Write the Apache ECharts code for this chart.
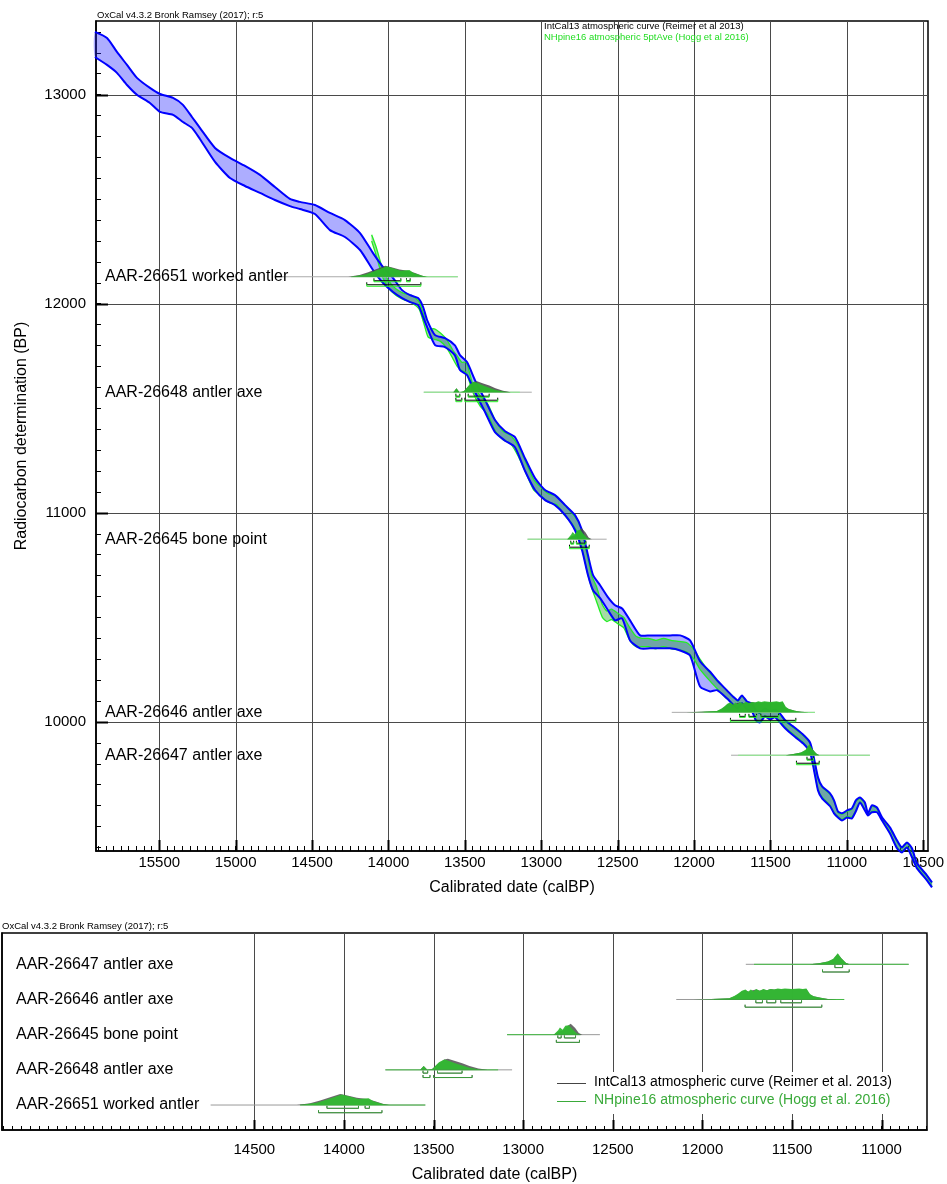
<!DOCTYPE html>
<html><head><meta charset="utf-8">
<script src="https://cdn.jsdelivr.net/npm/echarts@6/dist/echarts.min.js"></script>
<style>html,body{margin:0;padding:0;background:#fff}#c{width:947px;height:1184px}</style>
</head><body><div id="c"></div>
<script>
// ---------- DATA ----------
// IntCal13 band: [calBP, upper BP, lower BP]
const intcalBand = [
[15921,13300,13180],[15842,13271,13142],[15777,13204,13104],[15711,13142,13046],[15646,13080,12999],
[15561,13032,12960],[15495,13003,12917],[15410,12984,12903],[15345,12951,12869],[15286,12893,12841],
[15234,12841,12788],[15135,12745,12678],[15037,12697,12601],[14939,12659,12563],[14841,12616,12530],
[14743,12558,12496],[14645,12501,12467],[14579,12487,12453],[14481,12472,12429],[14383,12434,12352],
[14285,12400,12319],[14186,12338,12257],[14101,12242,12161],[14035,12175,12099],[13970,12123,12056],
[13911,12065,12027],[13858,12041,12008],[13806,12027,11993],[13773,11984,11936],[13747,11922,11888],
[13695,11850,11802],[13630,11835,11793],[13565,11801,11753],[13532,11754,11683],[13486,11721,11659],
[13434,11635,11578],[13368,11540,11482],[13303,11444,11386],[13237,11390,11345],[13172,11362,11314],
[13106,11260,11200],[13041,11166,11109],[12975,11109,11061],[12910,11085,11037],[12844,11037,10989],
[12779,10989,10917],[12733,10917,10821],[12694,10797,10702],[12661,10702,10630],[12615,10654,10592],
[12563,10596,10534],[12517,10558,10486],[12471,10543,10496],[12419,10486,10390],[12353,10414,10352],
[12288,10414,10352],[12222,10414,10352],[12157,10414,10352],[12091,10414,10342],[12026,10390,10318],
[11961,10290,10170],[11895,10240,10146],[11850,10200,10152],[11785,10151,10113],[11746,10122,10084],
[11713,10103,10065],[11687,10127,10089],[11654,10098,10060],[11621,10089,10051],[11595,10055,10007],
[11569,10045,9998],[11536,10065,10026],[11503,10050,10012],[11471,10060,10022],[11438,10041,9998],
[11404,10008,9970],[11352,9979,9936],[11287,9940,9898],[11241,9902,9855],[11215,9826,9769],
[11189,9735,9673],[11162,9692,9635],[11110,9659,9597],[11084,9625,9563],[11058,9572,9543],
[11032,9563,9529],[10999,9577,9543],[10967,9587,9539],[10941,9625,9573],[10914,9639,9615],
[10882,9615,9577],[10862,9563,9553],[10836,9601,9568],[10803,9591,9568],[10770,9544,9529],
[10718,9496,9467],[10672,9434,9396],[10640,9400,9376],[10607,9424,9400],[10574,9396,9353],
[10541,9324,9300],[10476,9267,9243],[10443,9233,9209]
];
// NHpine16 band: [calBP, upper BP, lower BP]
const nhpineBand = [
[14110,12330,12300],[14080,12270,12230],[14040,12170,12130],[14000,12110,12075],[13950,12070,12040],
[13900,12050,12020],[13850,12040,12005],[13800,12010,11975],[13770,11950,11910],[13740,11880,11840],
[13700,11880,11830],[13660,11860,11820],[13620,11830,11790],[13580,11780,11740],[13550,11750,11700],
[13520,11720,11680],[13490,11720,11670],[13450,11620,11580],[13400,11560,11510],[13350,11520,11470],
[13300,11440,11390],[13250,11390,11350],[13200,11370,11330],[13150,11320,11270],[13100,11240,11190],
[13050,11160,11110],[13000,11120,11080],[12950,11090,11050],[12900,11080,11040],[12850,11040,10990],
[12800,11000,10950],[12760,10960,10900],[12730,10900,10820],[12700,10800,10720],[12670,10700,10640],
[12640,10650,10580],[12600,10560,10500],[12570,10530,10480],[12540,10540,10490],[12500,10520,10470],
[12460,10500,10450],[12420,10450,10390],[12380,10410,10360],[12340,10400,10360],[12300,10400,10360],
[12250,10390,10350],[12200,10400,10360],[12150,10390,10350],[12100,10385,10345],[12050,10380,10335],
[12000,10345,10300],[11961,10300,10252],[11895,10232,10195],[11850,10196,10160],[11800,10162,10121],
[11750,10126,10090],[11713,10099,10068],[11687,10124,10092],[11654,10094,10063],[11621,10086,10054],
[11595,10050,10012],[11569,10041,10003],[11536,10060,10031],[11503,10046,10017],[11471,10055,10027],
[11438,10036,10004],[11404,10003,9975],[11352,9974,9942],[11287,9936,9903],[11241,9897,9860],
[11215,9820,9775],[11189,9730,9678],[11162,9688,9641],[11110,9654,9602],[11084,9620,9567],
[11058,9568,9548],[11032,9559,9534],[10999,9572,9548],[10967,9582,9545],[10941,9620,9578],
[10914,9634,9619],[10882,9610,9582],[10862,9561,9556],[10836,9596,9573],[10803,9587,9572],
[10770,9541,9532],[10718,9491,9471],[10672,9429,9401],[10640,9397,9380],[10607,9420,9404],
[10574,9391,9358],[10541,9320,9305],[10476,9263,9247],[10443,9229,9213]
];
const sampleNames = ['AAR-26651 worked antler','AAR-26648 antler axe','AAR-26645 bone point','AAR-26646 antler axe','AAR-26647 antler axe'];
const sampleBP = [12129, 11577, 10874, 10046, 9841];
const sampleRow = [1, 2, 3, 4, 5];
const grayLine  = [[14744,13546],[13769,13062],[13090,12572],[12146,11209],[11758,10849]];
const greenLine = [[14245,13546],[13769,13140],[13090,12680],[11936,11209],[11712,10849]];
const intcalDist = [
 [[14263,0],[14189,0.15],[14133,0.4],[14077,0.7],[14021,1.0],[13975,0.85],[13928,0.65],[13872,0.55],[13826,0.35],[13779,0.1],[13751,0]],
 [[13575,0],[13555,0.35],[13535,0],[13510,0.05],[13480,0.5],[13440,0.95],[13420,1.0],[13380,0.8],[13340,0.6],[13300,0.35],[13250,0.12],[13200,0]],
 [[12830,0],[12800,0.3],[12780,0.35],[12760,0.7],[12735,1.0],[12710,0.6],[12690,0.15],[12670,0]],
 [[12050,0],[11950,0.05],[11850,0.12],[11820,0.3],[11800,0.5],[11780,0.75],[11760,0.85],[11740,0.7],[11720,0.85],[11700,0.9],[11680,0.8],[11660,0.9],[11640,0.85],[11620,0.95],[11600,0.9],[11580,0.95],[11560,0.9],[11540,0.95],[11500,0.9],[11460,0.95],[11440,0.9],[11420,0.95],[11400,0.45],[11380,0.3],[11340,0.15],[11300,0.05],[11250,0]],
 [[11400,0],[11350,0.1],[11300,0.25],[11270,0.45],[11245,0.95],[11225,0.55],[11200,0.15],[11180,0]]
];
const nhpineDist = [
 [[14245,0],[14151,0.2],[14077,0.6],[14012,0.95],[13965,0.75],[13919,0.55],[13882,0.6],[13863,0.62],[13835,0.35],[13779,0.08],[13742,0]],
 [[13575,0],[13555,0.35],[13535,0],[13505,0.1],[13470,0.7],[13440,0.95],[13420,0.85],[13380,0.6],[13340,0.4],[13300,0.2],[13250,0.06],[13200,0]],
 [[12830,0],[12805,0.4],[12795,0.65],[12780,0.45],[12765,0.8],[12745,0.85],[12725,0.5],[12700,0.1],[12680,0]],
 [[12050,0],[11950,0.05],[11850,0.12],[11820,0.35],[11800,0.55],[11780,0.8],[11760,0.9],[11745,0.7],[11730,0.9],[11715,0.75],[11700,0.95],[11680,0.8],[11660,0.95],[11640,0.85],[11620,0.95],[11600,0.9],[11580,1.0],[11560,0.95],[11540,1.0],[11500,0.95],[11460,1.0],[11440,0.95],[11420,1.0],[11400,0.5],[11380,0.3],[11340,0.15],[11300,0.05],[11250,0]],
 [[11400,0],[11350,0.1],[11300,0.25],[11270,0.5],[11245,1.0],[11225,0.55],[11200,0.15],[11180,0]]
];
// calibrated ranges (68.2% and 95.4%)
const ranges68 = [
 [[14095,13919],[13882,13858]],
 [[13559,13533],[13478,13341]],
 [[12807,12788],[12770,12708]],
 [[11702,11665],[11641,11591],[11563,11447]],
 [[11261,11218]]
];
const ranges95 = [
 [[14142,13788]],
 [[13559,13520],[13500,13285]],
 [[12815,12686]],
 [[11762,11334]],
 [[11330,11181]]
];
const topXLabels = [15500,15000,14500,14000,13500,13000,12500,12000,11500,11000,10500];
const topYLabels = [10000,11000,12000,13000];
const botXLabels = [14500,14000,13500,13000,12500,12000,11500,11000];

// ---------- helpers ----------
const FONT = '"Liberation Sans", Arial, Helvetica, sans-serif';
function steps(from, to, step){ const r=[]; for(let v=from; v>=to; v-=step) r.push(v); return r; }
const topXMinor = steps(15900, 10500, 50);
const topYMinor = steps(13300, 9400, 100);
const botXMinor = steps(15900, 10750, 50);

function bandFill(data, fill, z){
  return {
    type:'custom', xAxisIndex:0, yAxisIndex:0, clip:false, silent:true, z:z,
    data:[[data[0][0], data[0][1]]],
    renderItem:function(params, api){
      const up = data.map(d=>api.coord([d[0], d[1]]));
      const lo = data.map(d=>api.coord([d[0], d[2]]));
      return {type:'polygon', shape:{points:up.concat(lo.slice().reverse()), smooth:0.2}, style:{fill:fill, stroke:null}};
    }
  };
}
function bandLines(data, stroke, lw, z){
  return {
    type:'custom', xAxisIndex:0, yAxisIndex:0, clip:false, silent:true, z:z,
    data:[[data[0][0], data[0][1]]],
    renderItem:function(params, api){
      const up = data.map(d=>api.coord([d[0], d[1]]));
      const lo = data.map(d=>api.coord([d[0], d[2]]));
      return {type:'group', children:[
        {type:'polyline', shape:{points:up, smooth:0.2}, style:{stroke:stroke, lineWidth:lw, fill:null, lineJoin:'round'}},
        {type:'polyline', shape:{points:lo, smooth:0.2}, style:{stroke:stroke, lineWidth:lw, fill:null, lineJoin:'round'}}
      ]};
    }
  };
}

function gridSeries(axisIdx, xVals, yVals, tickLenX, tickLenY){
  return {
    type:'custom', xAxisIndex:axisIdx, yAxisIndex:axisIdx, silent:true, z:1, clip:false,
    data:[[xVals[0], 0]],
    renderItem:function(params, api){
      const cs = params.coordSys; const ch=[];
      xVals.forEach(v=>{
        const x = Math.round(api.coord([v, 0])[0]) + 0.5;
        ch.push({type:'line', shape:{x1:x,y1:cs.y,x2:x,y2:cs.y+cs.height}, style:{stroke:'#4a4a4a', lineWidth:1}});
        ch.push({type:'line', shape:{x1:x,y1:cs.y+cs.height,x2:x,y2:cs.y+cs.height-tickLenX}, style:{stroke:'#000', lineWidth:2}});
      });
      yVals.forEach(v=>{
        const y = Math.round(api.coord([xVals[0], v])[1]) + 0.5;
        ch.push({type:'line', shape:{x1:cs.x,y1:y,x2:cs.x+cs.width,y2:y}, style:{stroke:'#4a4a4a', lineWidth:1}});
        ch.push({type:'line', shape:{x1:cs.x,y1:y,x2:cs.x+tickLenY,y2:y}, style:{stroke:'#000', lineWidth:2}});
      });
      return {type:'group', children:ch};
    }
  };
}

function distSeries(axisIdx, yVals, labelDx, colors){
  return {
    type:'custom', xAxisIndex:axisIdx, yAxisIndex:axisIdx, silent:true, z:10, clip:false,
    data: yVals.map((v,i)=>[grayLine[i][0], v, i]),
    encode:{x:0, y:1},
    renderItem:function(params, api){
      const i = api.value(2), yv = api.value(1), cs = params.coordSys;
      const X = v => api.coord([v, yv])[0];
      const base = api.coord([grayLine[i][0], yv])[1];
      const H = 11, ch = [];
      ch.push({type:'line', shape:{x1:X(grayLine[i][0]),y1:base,x2:X(grayLine[i][1]),y2:base}, style:{stroke:colors.grayLine, lineWidth:1}});
      ch.push({type:'line', shape:{x1:X(greenLine[i][0]),y1:base,x2:X(greenLine[i][1]),y2:base}, style:{stroke:colors.greenLine, lineWidth:1}});
      const poly = d => [[X(d[0][0]), base]].concat(d.map(p=>[X(p[0]), base - p[1]*H])).concat([[X(d[d.length-1][0]), base]]);
      ch.push({type:'polygon', shape:{points:poly(intcalDist[i])}, style:{fill:colors.grayFill}});
      ch.push({type:'polygon', shape:{points:poly(nhpineDist[i])}, style:{fill:colors.greenFill}});
      const bracket = (r, y, col) => {
        const a = X(r[0]), b = X(r[1]);
        ch.push({type:'polyline', shape:{points:[[a,y-2.5],[a,y],[b,y],[b,y-2.5]]}, style:{stroke:col, lineWidth:1, fill:null}});
      };
      ranges68[i].forEach(r=>bracket(r, base+colors.off68a, colors.grayBr));
      ranges95[i].forEach(r=>bracket(r, base+colors.off95a, colors.grayBr));
      ranges68[i].forEach(r=>bracket(r, base+colors.off68b, colors.greenBr));
      ranges95[i].forEach(r=>bracket(r, base+colors.off95b, colors.greenBr));
      ch.push({type:'text', x:cs.x+labelDx, y:base, style:{text:sampleNames[i], fontSize:16, fontFamily:FONT, fill:'#000', align:'left', verticalAlign:'middle'}});
      return {type:'group', children:ch};
    }
  };
}

const chart = echarts.init(document.getElementById('c'), null, {renderer:'canvas'});
const axisCommon = {
  axisLine:{show:true, lineStyle:{color:'#000', width:1.5}},
  splitLine:{show:false}
};
chart.setOption({
  animation:false,
  backgroundColor:'#fff',
  textStyle:{fontFamily:FONT},
  grid:[
    {left:96, top:21, width:832, height:830, show:true, borderColor:'#000', borderWidth:1.5, backgroundColor:'transparent', containLabel:false, outerBoundsMode:'none'},
    {left:2, top:933, width:925, height:197, show:true, borderColor:'#000', borderWidth:1.5, backgroundColor:'transparent', containLabel:false, outerBoundsMode:'none'}
  ],
  xAxis:[
    Object.assign({type:'value', gridIndex:0, inverse:true, min:10469, max:15914,
      axisTick:{show:true, inside:true, length:5, customValues:topXMinor, lineStyle:{color:'#000', width:1}},
      axisLabel:{customValues:topXLabels, fontSize:15, color:'#000', margin:4, formatter:v=>String(v)},
      name:'Calibrated date (calBP)', nameLocation:'middle', nameGap:29,
      nameTextStyle:{fontSize:16, color:'#000', fontFamily:FONT}}, axisCommon),
    Object.assign({type:'value', gridIndex:1, inverse:true, min:10747, max:15908,
      axisTick:{show:true, inside:true, length:4, customValues:botXMinor, lineStyle:{color:'#000', width:1}},
      axisLabel:{customValues:botXLabels, fontSize:15, color:'#000', margin:12, formatter:v=>String(v)},
      name:'Calibrated date (calBP)', nameLocation:'middle', nameGap:37,
      nameTextStyle:{fontSize:16, color:'#000', fontFamily:FONT, padding:[0,0,0,60]}}, axisCommon)
  ],
  yAxis:[
    Object.assign({type:'value', gridIndex:0, min:9383, max:13352,
      axisTick:{show:true, inside:true, length:5, customValues:topYMinor, lineStyle:{color:'#000', width:1}},
      axisLabel:{customValues:topYLabels, fontSize:15, color:'#000', margin:10, formatter:v=>String(v)},
      name:'Radiocarbon determination (BP)', nameLocation:'middle', nameGap:66, nameRotate:90,
      nameTextStyle:{fontSize:16, color:'#000', fontFamily:FONT}}, axisCommon),
    Object.assign({type:'value', gridIndex:1, min:0.29, max:5.89,
      axisTick:{show:false}, axisLabel:{show:false}}, axisCommon)
  ],
  series:[
    gridSeries(0, topXLabels, topYLabels, 11, 12),
    bandFill(intcalBand, 'rgba(40,40,255,0.38)', 3),
    bandFill(nhpineBand, 'rgba(0,150,0,0.35)', 4),
    bandLines(nhpineBand, '#22ee22', 1.3, 5),
    bandLines(intcalBand, '#0000ff', 2, 6),
    distSeries(0, sampleBP, 9, {grayLine:'#aaaaaa', greenLine:'#88ee88', grayFill:'rgba(70,70,70,0.85)', greenFill:'rgba(40,190,40,0.9)',
      grayBr:'#000', greenBr:'#22ee22', off68a:4, off95a:8, off68b:5, off95b:9.5}),
    gridSeries(1, botXLabels, [], 10, 0),
    distSeries(1, sampleRow, 14, {grayLine:'#999999', greenLine:'#44bb44', grayFill:'rgba(80,80,80,0.85)', greenFill:'rgba(50,185,50,0.95)',
      grayBr:'#777', greenBr:'#3a9a3a', off68a:3.3, off95a:7.7, off68b:3.3, off95b:7.7})
  ],
  graphic:[
    {type:'text', left:97, top:10, z:100, style:{text:'OxCal v4.3.2 Bronk Ramsey (2017); r:5', fontSize:9.5, fontFamily:FONT, fill:'#000'}},
    {type:'text', left:544, top:21, z:100, style:{text:'IntCal13 atmospheric curve (Reimer et al 2013)', fontSize:9.5, fontFamily:FONT, fill:'#000'}},
    {type:'text', left:544, top:32, z:100, style:{text:'NHpine16 atmospheric 5ptAve (Hogg et al 2016)', fontSize:9.5, fontFamily:FONT, fill:'#22dd22'}},
    {type:'text', left:2, top:921, z:100, style:{text:'OxCal v4.3.2 Bronk Ramsey (2017); r:5', fontSize:9.5, fontFamily:FONT, fill:'#000'}},
    {type:'rect', left:552, top:1072, z:100, shape:{width:356, height:42}, style:{fill:'#fff'}},
    {type:'line', z:101, shape:{x1:557, y1:1083.5, x2:586, y2:1083.5}, style:{stroke:'#444', lineWidth:1}},
    {type:'line', z:101, shape:{x1:557, y1:1101.5, x2:586, y2:1101.5}, style:{stroke:'#3aaa3a', lineWidth:1}},
    {type:'text', left:594, top:1075, z:101, style:{text:'IntCal13 atmospheric curve (Reimer et al. 2013)', fontSize:14, fontFamily:FONT, fill:'#000'}},
    {type:'text', left:594, top:1093, z:101, style:{text:'NHpine16 atmospheric curve (Hogg et al. 2016)', fontSize:14, fontFamily:FONT, fill:'#3aaa3a'}}
  ]
});
</script>
</body></html>
